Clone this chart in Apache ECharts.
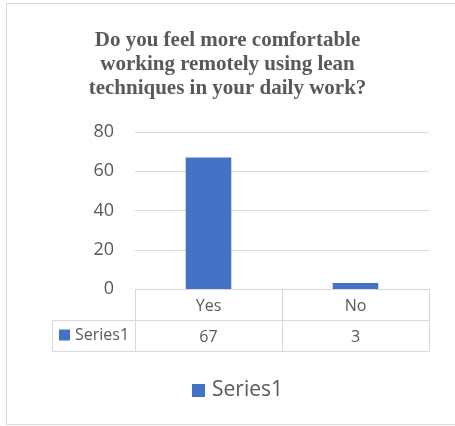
<!DOCTYPE html>
<html>
<head>
<meta charset="utf-8">
<script src="https://cdn.jsdelivr.net/npm/echarts@6/dist/echarts.min.js"></script>
<style>
html,body{margin:0;padding:0;background:#fff;}
#main{width:455px;height:426px;}
</style>
</head>
<body>
<div id="main"></div>
<script>
const titleText = 'Do you feel more comfortable\nworking remotely using lean\ntechniques in your daily work?';
const categories = ['Yes', 'No'];
const seriesName = 'Series1';
const values = [67, 3];
const yTicks = [0, 20, 40, 60, 80];

const FONT = '"Open Sans", "Liberation Sans", sans-serif';
const GRAY = '#595959';
const LINE = '#d9d9d9';
const BLUE = '#4472c4';

const chart = echarts.init(document.getElementById('main'));
const rowH = 31;
const gridLeft = 135, gridRight = 26, gridTop = 132, gridBottom = 137;

const option = {
  animation: false,
  backgroundColor: '#fff',
  title: {
    text: titleText,
    left: 'center',
    top: 24,
    textStyle: {
      fontFamily: '"Liberation Serif", "Times New Roman", serif',
      fontWeight: 'bold',
      fontSize: 21,
      lineHeight: 24,
      color: GRAY
    }
  },
  grid: { left: gridLeft, right: gridRight, top: gridTop, bottom: gridBottom },
  legend: [
    {
      data: [seriesName],
      left: 192,
      top: 380,
      padding: 0,
      icon: 'rect',
      itemWidth: 13,
      itemHeight: 13,
      textStyle: { fontFamily: FONT, fontSize: 21, color: GRAY, padding: [0, 0, 0, 2] }
    },
    {
      data: [seriesName],
      left: 59,
      top: 327,
      padding: 0,
      icon: 'rect',
      itemWidth: 11,
      itemHeight: 11,
      selectedMode: false,
      textStyle: { fontFamily: FONT, fontSize: 16, color: GRAY }
    }
  ],
  yAxis: {
    type: 'value',
    min: yTicks[0],
    max: yTicks[yTicks.length - 1],
    interval: yTicks[1] - yTicks[0],
    axisLine: { show: false },
    axisTick: { show: false },
    axisLabel: { fontFamily: FONT, fontSize: 18, color: GRAY, margin: 21 },
    splitLine: { lineStyle: { color: LINE, width: 1 } }
  },
  xAxis: [
    {
      type: 'category',
      data: categories,
      position: 'bottom',
      axisLine: { show: true, lineStyle: { color: LINE, width: 1 } },
      axisTick: { show: true, length: rowH * 2, interval: 0, lineStyle: { color: LINE, width: 1 } },
      axisLabel: { fontFamily: FONT, fontSize: 16, color: GRAY, margin: 9 }
    },
    {
      type: 'category',
      data: values.map(String),
      position: 'bottom',
      offset: rowH,
      axisLine: { show: true, lineStyle: { color: LINE, width: 1 } },
      axisTick: { show: false },
      axisLabel: { fontFamily: FONT, fontSize: 16, color: GRAY, margin: 9 }
    },
    {
      type: 'category',
      data: categories,
      position: 'bottom',
      offset: rowH * 2,
      axisLine: { show: true, lineStyle: { color: LINE, width: 1 } },
      axisTick: { show: false },
      axisLabel: { show: false }
    }
  ],
  series: [
    {
      name: seriesName,
      type: 'bar',
      xAxisIndex: 0,
      data: values,
      barWidth: '31%',
      itemStyle: { color: BLUE }
    }
  ]
};
chart.setOption(option);

// table left cell + outer frame, derived from the grid geometry
const y0 = chart.convertToPixel({ yAxisIndex: 0 }, 0);
const r1 = Math.round(y0 + rowH) + 0.5;
const r2 = Math.round(y0 + rowH * 2) + 0.5;
const cellLeft = gridLeft - 83 + 0.5;
chart.setOption({
  graphic: [
    { type: 'rect', shape: { x: 6.5, y: 3.5, width: 460, height: 421 }, style: { fill: 'none', stroke: LINE, lineWidth: 1 }, silent: true },
    { type: 'polyline', shape: { points: [[gridLeft, r1], [cellLeft, r1], [cellLeft, r2], [gridLeft, r2]] }, style: { fill: 'none', stroke: LINE, lineWidth: 1 }, silent: true }
  ]
});
</script>
</body>
</html>
